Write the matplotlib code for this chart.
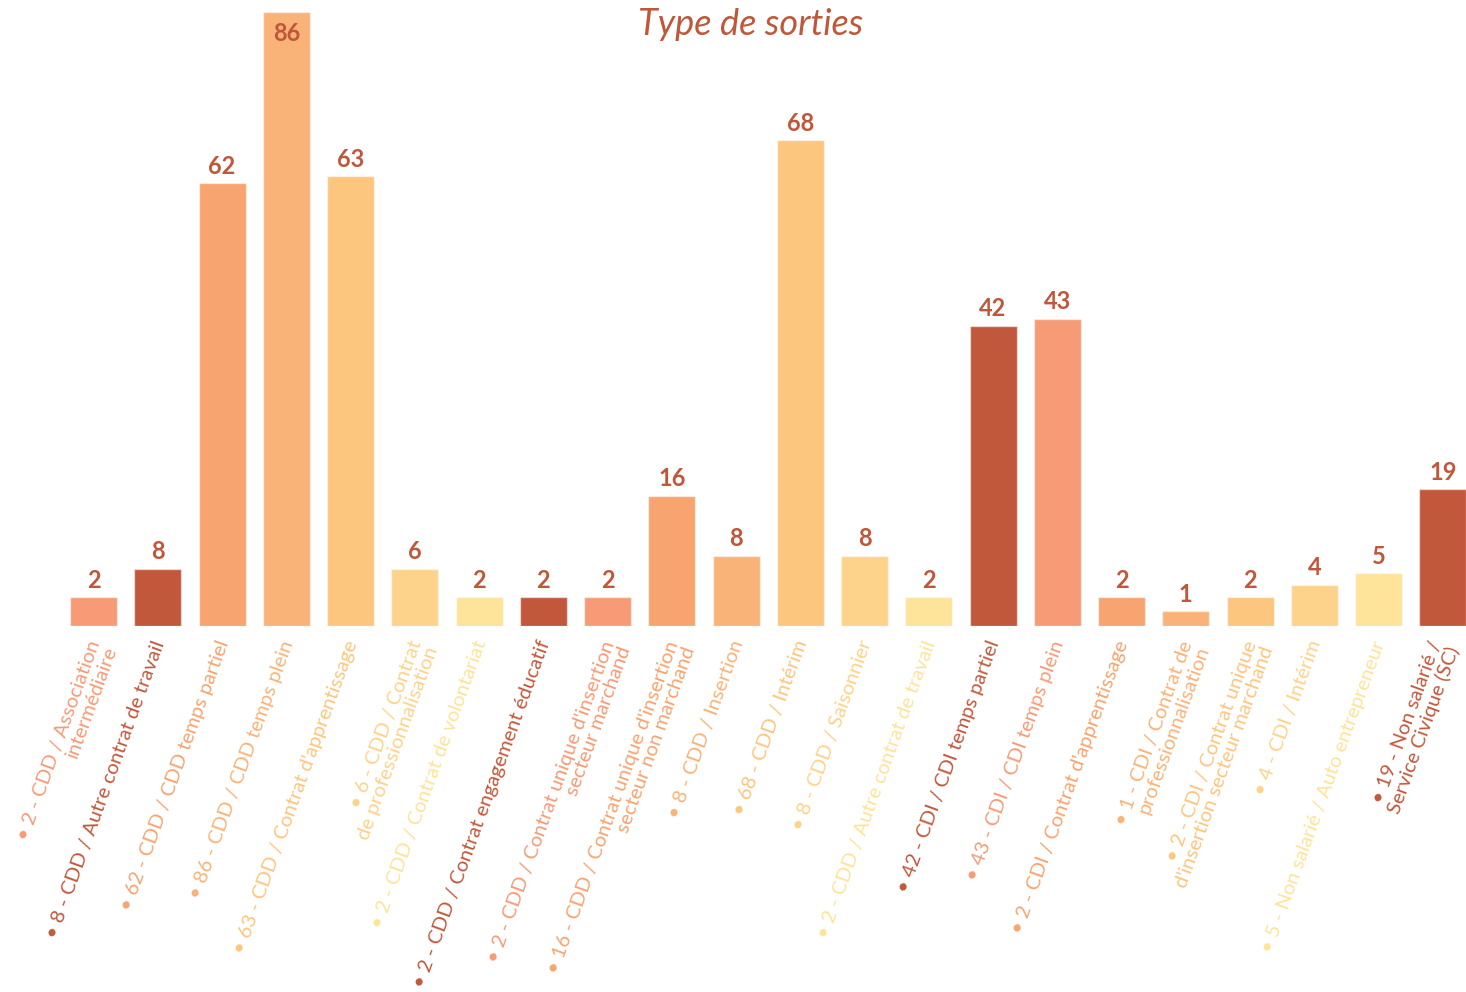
import matplotlib
matplotlib.use("Agg")
import matplotlib.pyplot as plt
import matplotlib.transforms as mtransforms

# libelles des sorties (valeur affichee + intitule)
categories = [
    "2 - CDD / Association\nintermédiaire",
    "8 - CDD / Autre contrat de travail",
    "62 - CDD / CDD temps partiel",
    "86 - CDD / CDD temps plein",
    "63 - CDD / Contrat d'apprentissage",
    "6 - CDD / Contrat\nde professionnalisation",
    "2 - CDD / Contrat de volontariat",
    "2 - CDD / Contrat engagement éducatif",
    "2 - CDD / Contrat unique d'insertion\nsecteur marchand",
    "16 - CDD / Contrat unique d'insertion\nsecteur non marchand",
    "8 - CDD / Insertion",
    "68 - CDD / Intérim",
    "8 - CDD / Saisonnier",
    "2 - CDD / Autre contrat de travail",
    "42 - CDI / CDI temps partiel",
    "43 - CDI / CDI temps plein",
    "2 - CDI / Contrat d'apprentissage",
    "1 - CDI / Contrat de\nprofessionnalisation",
    "2 - CDI / Contrat unique\nd'insertion secteur marchand",
    "4 - CDI / Intérim",
    "5 - Non salarié / Auto entrepreneur",
    "19 - Non salarié /\nService Civique (SC)",
]
counts = [2, 8, 62, 86, 63, 6, 2, 2, 2, 16, 8, 68, 8, 2, 42, 43, 2, 1, 2, 4, 5, 19]
bar_heights = [4, 8, 62, 86, 63, 8, 4, 4, 4, 18.2, 9.8, 68, 9.8, 4, 42, 43, 4, 2, 4, 5.75, 7.35, 19.1]

DARK = "#c1583b"
SALMON = "#f69b76"
ORANGE = "#f7a470"
LORANGE = "#f9b378"
PEACH = "#fcc67f"
LPEACH = "#fdd38b"
YELLOW = "#fee39a"
colors = [SALMON, DARK, ORANGE, LORANGE, PEACH, LPEACH, YELLOW,
          DARK, SALMON, ORANGE, LORANGE, PEACH, LPEACH, YELLOW,
          DARK, SALMON, ORANGE, LORANGE, PEACH, LPEACH, YELLOW,
          DARK]

fig = plt.figure(figsize=(14.66, 9.92), dpi=100)
ax = fig.add_axes([0.0419, 0.3692, 0.9581, 0.6187])

x = list(range(len(categories)))
ax.bar(x, bar_heights, width=0.73, color=colors,
       edgecolor=(1, 1, 1, 0.5), linewidth=1)

ax.set_xlim(-0.5, 21.36)
ax.set_ylim(0, 86)
for s in ax.spines.values():
    s.set_visible(False)
ax.set_yticks([])
ax.set_xticks([])

top = max(bar_heights)
for i, (h, c) in enumerate(zip(bar_heights, counts)):
    if h == top:
        ax.annotate(str(c), (i, h), xytext=(0, -7), textcoords="offset points",
                    ha="center", va="top", fontsize=17, fontweight="bold",
                    family="Lato", color="#c0573a")
    else:
        ax.annotate(str(c), (i, h), xytext=(0, 4), textcoords="offset points",
                    ha="center", va="bottom", fontsize=17, fontweight="bold",
                    family="Lato", color="#c0573a")

# etiquettes inclinees sous les barres
n = len(categories)
for i, (lab, c) in enumerate(zip(categories, colors)):
    dx = -4.5 if i < n - 1 else -10.5  # la derniere touche le bord droit
    shift = mtransforms.ScaledTranslation(dx / 72, -9 / 72, fig.dpi_scale_trans)
    ax.text(i, 0, "• " + lab, transform=ax.get_xaxis_transform() + shift,
            rotation=70, rotation_mode="anchor", ha="right", va="top",
            multialignment="right", fontsize=14.5, family="Lato", color=c,
            linespacing=1.05)

fig.text(0.512, 0.975, "Type de sorties", ha="center", va="center",
         fontsize=26, family="Lato", style="italic", color="#c0573a")

fig.savefig("out.png", dpi=100)
